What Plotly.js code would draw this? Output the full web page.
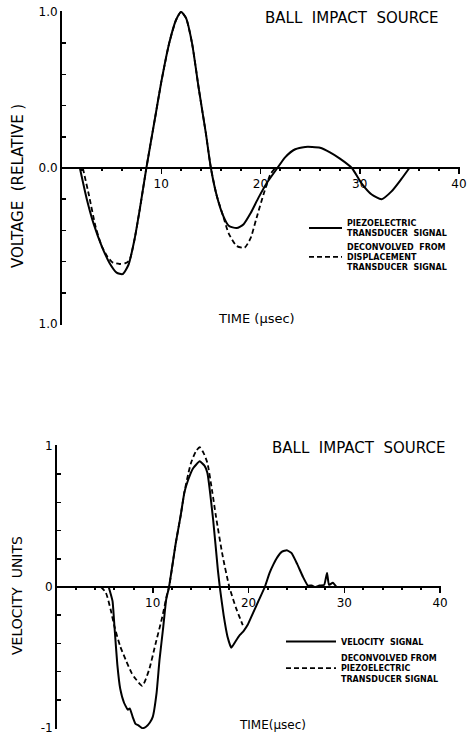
<!DOCTYPE html>
<html>
<head>
<meta charset="utf-8">
<script src="https://cdn.plot.ly/plotly-3.0.1.min.js"></script>
<style>
  html, body { margin: 0; padding: 0; background: #fff; }
  #chart { width: 469px; height: 735px; }
</style>
</head>
<body>
<div id="chart"></div>
<script>
// ---------- Top chart: voltage (relative) vs time (µsec) ----------
const topPiezoTime = [1.8, 2.5, 3.2, 4.0, 4.8, 5.5, 6.1, 6.7, 7.3, 7.9, 8.5, 9.4, 10.0, 10.8, 11.5, 12.0, 12.5, 13.1, 13.8, 14.5, 15.0, 15.6, 16.2, 16.8, 17.6, 18.3, 19.0, 19.8, 20.7, 21.7, 22.5, 23.5, 24.5, 25.2, 26.0, 27.0, 28.0, 29.2, 30.2, 31.2, 32.2, 33.2, 34.2, 35.0];
const topPiezoVolt = [0, -0.2, -0.36, -0.5, -0.61, -0.67, -0.68, -0.62, -0.46, -0.24, 0, 0.33, 0.55, 0.8, 0.95, 1.0, 0.96, 0.8, 0.5, 0.22, 0, -0.18, -0.3, -0.37, -0.385, -0.36, -0.29, -0.19, -0.09, 0, 0.07, 0.12, 0.135, 0.135, 0.13, 0.1, 0.06, 0, -0.1, -0.17, -0.2, -0.15, -0.07, 0];

const topDeconTime = [2.1, 2.7, 3.4, 4.0, 4.6, 5.1, 5.8, 6.4, 6.8, 7.3, 7.9, 8.5, 9.4, 10.0, 10.8, 11.5, 12.0, 12.5, 13.1, 13.8, 14.5, 15.0, 15.6, 16.2, 16.8, 17.6, 18.4, 19.0, 19.6, 20.3, 21.0, 21.5];
const topDeconVolt = [0, -0.17, -0.38, -0.5, -0.57, -0.605, -0.615, -0.61, -0.59, -0.46, -0.24, 0, 0.33, 0.55, 0.8, 0.95, 1.0, 0.96, 0.8, 0.5, 0.22, 0, -0.18, -0.3, -0.42, -0.5, -0.51, -0.45, -0.32, -0.17, -0.04, 0];

// ---------- Bottom chart: velocity units vs time (µsec) ----------
const botVelTime = [5.4, 5.8, 6.0, 6.3, 6.6, 7.0, 7.4, 7.6, 7.9, 8.2, 8.5, 8.9, 9.3, 9.7, 10.0, 10.4, 10.7, 11.1, 11.4, 11.7, 12.4, 12.9, 13.3, 13.7, 14.2, 14.9, 15.4, 15.7, 16.3, 16.8, 17.0, 17.4, 17.8, 18.2, 18.6, 19.1, 19.5, 19.9, 20.5, 21.1, 21.7, 22.2, 22.6, 23.0, 23.5, 24.0, 24.5, 25.1, 25.7, 26.2, 26.6, 26.9, 27.4, 27.9, 28.2, 28.4, 28.8, 29.2];
const botVelValue = [0, -0.1, -0.28, -0.55, -0.72, -0.82, -0.87, -0.86, -0.92, -0.97, -0.98, -1.0, -0.99, -0.96, -0.92, -0.75, -0.52, -0.28, -0.09, 0, 0.31, 0.5, 0.67, 0.76, 0.84, 0.89, 0.86, 0.81, 0.48, 0.12, 0, -0.2, -0.35, -0.43, -0.39, -0.34, -0.31, -0.27, -0.18, -0.09, 0, 0.1, 0.16, 0.21, 0.25, 0.26, 0.24, 0.16, 0.07, 0.01, 0.01, 0, 0.01, 0.015, 0.1, 0.015, 0.03, 0];

const botDeconTime = [4.6, 5.1, 5.6, 6.0, 6.6, 7.2, 7.8, 8.2, 8.9, 9.6, 10.3, 11.0, 11.5, 11.7, 12.4, 12.9, 13.3, 13.7, 14.0, 14.5, 14.9, 15.3, 15.7, 16.2, 16.6, 17.3, 18.0, 18.7, 19.4];
const botDeconValue = [0, -0.04, -0.16, -0.28, -0.42, -0.52, -0.61, -0.65, -0.70, -0.59, -0.40, -0.21, -0.05, 0, 0.31, 0.5, 0.67, 0.8, 0.88, 0.96, 0.99, 0.95, 0.88, 0.68, 0.5, 0.22, 0, -0.15, -0.27];

// Tick labels
const timeTicks = [10, 20, 30, 40];
const timeTickLabels = ['10', '20', '30', '40'];
const timeMinorTicks = [2, 4, 6, 8, 12, 14, 16, 18, 22, 24, 26, 28, 32, 34, 36, 38];
const valueTicks = [-1, -0.8, -0.6, -0.4, -0.2, 0, 0.2, 0.4, 0.6, 0.8, 1];
const topYTickLabels = ['1.0', '', '', '', '', '0.0', '', '', '', '', '1.0'];
const botYTickLabels = ['-1', '', '', '', '', '0', '', '', '', '', '1'];
const valueEndTicks = [-1, 1];

// Texts
const topTitle = 'BALL\u00a0\u00a0IMPACT\u00a0\u00a0SOURCE';
const botTitle = 'BALL\u00a0\u00a0IMPACT\u00a0\u00a0SOURCE';
const topXTitle = 'TIME (\u00b5sec)';
const botXTitle = 'TIME(\u00b5sec)';
const topYTitle = 'VOLTAGE\u00a0\u00a0(RELATIVE\u00a0)';
const botYTitle = 'VELOCITY\u00a0\u00a0UNITS';
const topNames = ['PIEZOELECTRIC<br>TRANSDUCER\u00a0\u00a0SIGNAL', 'DECONVOLVED\u00a0\u00a0FROM<br>DISPLACEMENT<br>TRANSDUCER\u00a0\u00a0SIGNAL'];
const botNames = ['VELOCITY\u00a0\u00a0SIGNAL', 'DECONVOLVED\u00a0FROM<br>PIEZOELECTRIC<br>TRANSDUCER\u00a0SIGNAL'];

const FONT = 'DejaVu Sans, Liberation Sans, sans-serif';
const INK = '#000';

const traces = [
  { x: topPiezoTime, y: topPiezoVolt, xaxis: 'x', yaxis: 'y', mode: 'lines', name: topNames[0], legend: 'legend',
    line: { color: INK, width: 2, shape: 'spline', smoothing: 0.6 } },
  { x: topDeconTime, y: topDeconVolt, xaxis: 'x', yaxis: 'y', mode: 'lines', name: topNames[1], legend: 'legend',
    line: { color: INK, width: 1.8, dash: '5px,3px', shape: 'spline', smoothing: 0.6 } },
  { x: botVelTime, y: botVelValue, xaxis: 'x2', yaxis: 'y2', mode: 'lines', name: botNames[0], legend: 'legend2',
    line: { color: INK, width: 2, shape: 'spline', smoothing: 0.4 } },
  { x: botDeconTime, y: botDeconValue, xaxis: 'x2', yaxis: 'y2', mode: 'lines', name: botNames[1], legend: 'legend2',
    line: { color: INK, width: 1.8, dash: '5px,3px', shape: 'spline', smoothing: 0.6 } }
];

const W = 469, H = 735;
const px = v => v / W;
const py = v => 1 - v / H;

// ranges padded a hair so Plotly keeps the end ticks (at 40 and at ±1)
const timeRange = [0, 40.1];
const valueRange = [-1.006, 1.006];

function timeAxis(domain, pos, overlay, showLabels, ticksDir) {
  const ax = {
    domain: domain, range: timeRange, anchor: 'free', position: pos,
    showline: true, linecolor: INK, linewidth: 2,
    showgrid: false, zeroline: false,
    tickmode: 'array', tickvals: timeTicks, ticktext: timeTickLabels,
    ticks: ticksDir, ticklen: 5, tickwidth: 1.5, tickcolor: INK,
    showticklabels: showLabels, ticklabeloverflow: 'allow',
    tickfont: { family: FONT, size: 12, color: INK },
    minor: { tickmode: 'array', tickvals: timeMinorTicks, ticks: ticksDir, ticklen: 2, tickwidth: 2, tickcolor: INK },
    fixedrange: true
  };
  if (overlay) ax.overlaying = overlay;
  return ax;
}

function valueAxis(domain, anchor, labels) {
  return {
    domain: domain, range: valueRange, anchor: anchor, side: 'left',
    showline: true, linecolor: INK, linewidth: 2,
    showgrid: false, zeroline: false,
    tickmode: 'array', tickvals: valueTicks, ticktext: labels,
    ticks: 'inside', ticklen: 4, tickwidth: 1.5, tickcolor: INK,
    ticklabeloverflow: 'allow',
    tickfont: { family: FONT, size: 12, color: INK },
    fixedrange: true
  };
}

function valueEndAxis(domain, anchor, overlay) {
  return {
    domain: domain, range: valueRange, anchor: anchor, side: 'left', overlaying: overlay,
    showline: false, showgrid: false, zeroline: false,
    tickmode: 'array', tickvals: valueEndTicks, showticklabels: false,
    ticks: 'inside', ticklen: 9, tickwidth: 2, tickcolor: INK,
    fixedrange: true
  };
}

const topXDom = [px(62), px(460)];
const topYDom = [py(325), py(11)];
const botXDom = [px(57), px(441)];
const botYDom = [py(729), py(445)];

const legendFont = { family: FONT, size: 8, color: INK, weight: 'bold' };

const layout = {
  width: W, height: H,
  margin: { l: 0, r: 0, t: 0, b: 0 },
  paper_bgcolor: '#fff', plot_bgcolor: 'rgba(0,0,0,0)',
  font: { family: FONT, color: INK },
  showlegend: true,
  xaxis: timeAxis(topXDom, py(168), null, true, 'outside'),
  xaxis3: timeAxis(topXDom, py(168), 'x', false, 'inside'),
  yaxis: valueAxis(topYDom, 'x', topYTickLabels),
  yaxis3: valueEndAxis(topYDom, 'x', 'y'),
  xaxis2: timeAxis(botXDom, py(587), null, true, 'outside'),
  xaxis4: timeAxis(botXDom, py(587), 'x2', false, 'inside'),
  yaxis2: valueAxis(botYDom, 'x2', botYTickLabels),
  yaxis4: valueEndAxis(botYDom, 'x2', 'y2'),
  legend: {
    x: px(304), y: py(211), xanchor: 'left', yanchor: 'top',
    bgcolor: 'rgba(0,0,0,0)', borderwidth: 0, itemwidth: 33,
    font: legendFont, tracegroupgap: 4, itemclick: false, itemdoubleclick: false
  },
  legend2: {
    x: px(281), y: py(627), xanchor: 'left', yanchor: 'top',
    bgcolor: 'rgba(0,0,0,0)', borderwidth: 0, itemwidth: 50,
    font: legendFont, tracegroupgap: 4, itemclick: false, itemdoubleclick: false
  },
  annotations: [
    { text: topTitle, xref: 'paper', yref: 'paper', x: px(351), y: py(18), xanchor: 'center', yanchor: 'middle', showarrow: false,
      font: { family: FONT, size: 15, color: INK } },
    { text: botTitle, xref: 'paper', yref: 'paper', x: px(358), y: py(448), xanchor: 'center', yanchor: 'middle', showarrow: false,
      font: { family: FONT, size: 15, color: INK } },
    { text: topXTitle, xref: 'paper', yref: 'paper', x: px(256), y: py(318), xanchor: 'center', yanchor: 'middle', showarrow: false,
      font: { family: FONT, size: 13, color: INK } },
    { text: botXTitle, xref: 'paper', yref: 'paper', x: px(272), y: py(725), xanchor: 'center', yanchor: 'middle', showarrow: false,
      font: { family: FONT, size: 12, color: INK } },
    { text: topYTitle, xref: 'paper', yref: 'paper', x: px(18), y: py(186), xanchor: 'center', yanchor: 'middle', showarrow: false,
      textangle: -90, font: { family: FONT, size: 15, color: INK } },
    { text: botYTitle, xref: 'paper', yref: 'paper', x: px(17), y: py(596), xanchor: 'center', yanchor: 'middle', showarrow: false,
      textangle: -90, font: { family: FONT, size: 14, color: INK } }
  ]
};

Plotly.newPlot('chart', traces, layout, { staticPlot: true, displayModeBar: false });
</script>
</body>
</html>
